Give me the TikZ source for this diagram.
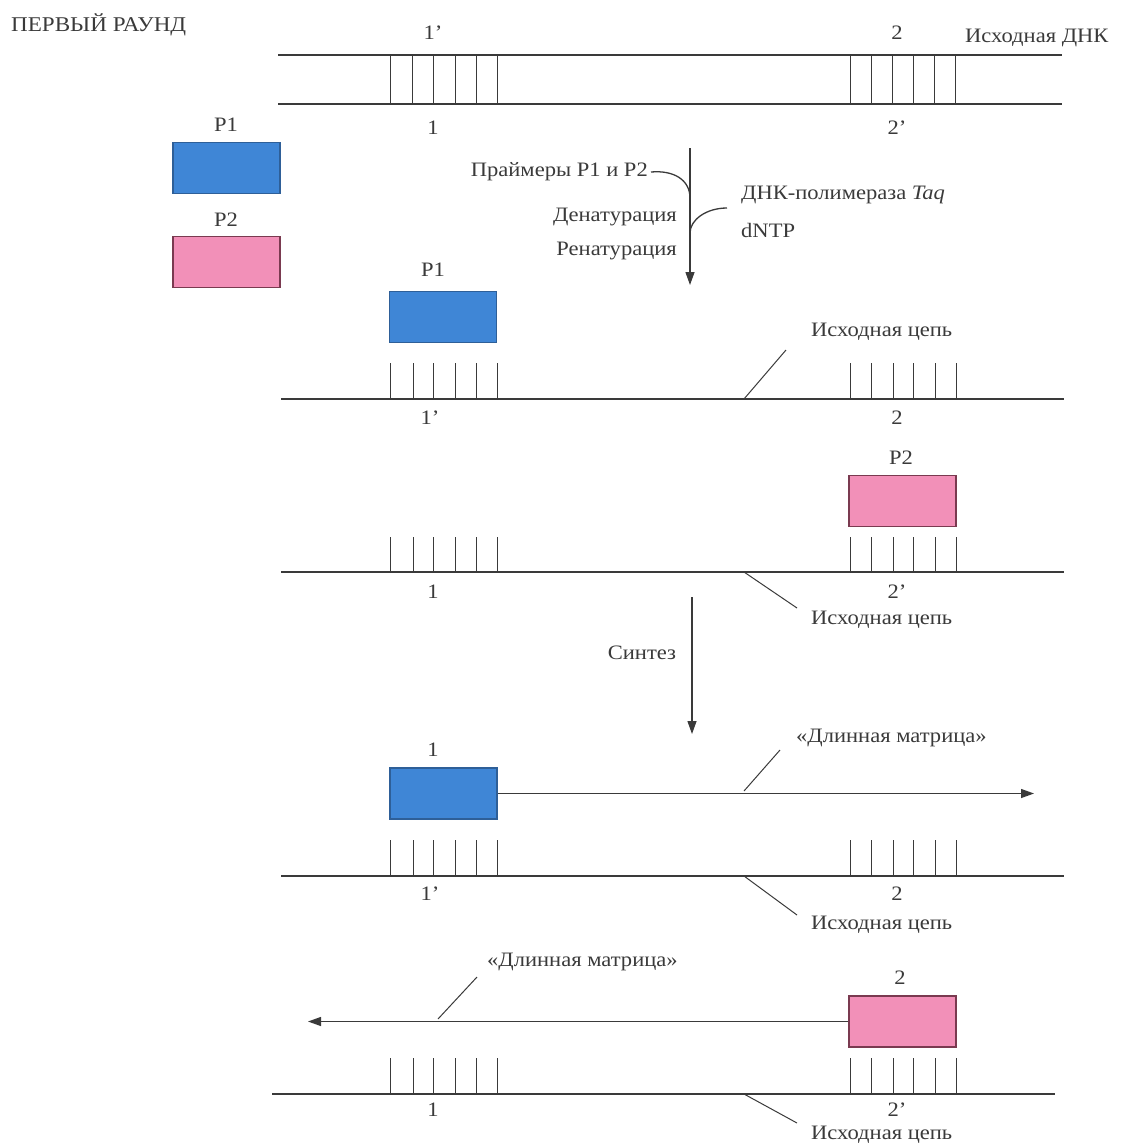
\documentclass[tikz,border=0pt]{standalone}
\usepackage{fontspec}
\setmainfont{Liberation Serif}[FakeStretch=1.1]
\usetikzlibrary{arrows.meta}
\definecolor{pblue}{HTML}{3F86D6}
\definecolor{pblueD}{HTML}{2E5F98}
\definecolor{ppink}{HTML}{F290B8}
\definecolor{ppinkD}{HTML}{7A3A50}
\definecolor{ink}{HTML}{3A3A3A}
\begin{document}
\begin{tikzpicture}[x=1pt,y=-1pt,
 lbl/.style={font=\fontsize{20.5}{22}\selectfont, text=ink, inner sep=0pt},
 strand/.style={draw=ink, line width=1.6pt},
 rung/.style={draw=ink, line width=0.9pt},
 lead/.style={draw=ink, line width=1pt},
 bluebox/.style={draw=pblueD, fill=pblue, line width=1.5pt, minimum width=107pt, minimum height=51pt, inner sep=0pt},
 pinkbox/.style={draw=ppinkD, fill=ppink, line width=1.5pt, minimum width=107pt, minimum height=51pt, inner sep=0pt},
 arr/.style={draw=ink, line width=1.3pt, -{Triangle[length=13pt,width=9pt]}},
 curv/.style={draw=ink, line width=1.3pt}
]
\useasboundingbox (0,0) rectangle (1131,1144);
% title
\node[lbl, anchor=west, font=\fontsize{21}{23}\selectfont] (title) at (11,25) {ПЕРВЫЙ РАУНД};
% top double strand
\coordinate (ts1) at (278,55); \coordinate (te1) at (1062,55);
\coordinate (ts2) at (278,104); \coordinate (te2) at (1062,104);
\draw[strand] (ts1) -- (te1);
\draw[strand] (ts2) -- (te2);
\foreach \x in {390,412,433,455,476,497,850,871,892,913,934,955}
  \draw[rung] (\x,55) -- (\x,104);
\node[lbl] (t1p) at (433,33) {1'};
\node[lbl] (t2) at (897,33) {2};
\node[lbl] (t1) at (433,128) {1};
\node[lbl] (t2p) at (897,128) {2'};
\node[lbl, anchor=west] (dna) at (965,38) {Исходная ДНК};
% free primers
\node[lbl] (lp1) at (226,125) {P1};
\node[bluebox] (bp1) at (226.5,168) {};
\node[lbl] (lp2) at (226,220) {P2};
\node[pinkbox] (bp2) at (226.5,262) {};
% step arrow 1
\coordinate (a1s) at (690,148); \coordinate (a1e) at (690,285);
\draw[arr] (a1s) -- (a1e);
\node[lbl, anchor=east] (prim) at (648,172) {Праймеры P1 и P2};
\node[lbl, anchor=east] (den) at (677,217) {Денатурация};
\node[lbl, anchor=east] (ren) at (677,251) {Ренатурация};
\node[lbl, anchor=west] (pol) at (741,195) {ДНК-полимераза \textit{Taq}};
\node[lbl, anchor=west] (dntp) at (741,230) {dNTP};
\coordinate (j1) at (690,198); \coordinate (j2) at (690,233);
\draw[curv] ([xshift=3pt]prim.east) .. controls (674,170) and (690,180) .. (j1);
\coordinate (c2) at (727,208);
\draw[curv] (c2) .. controls (706,208) and (690,220) .. (j2);
% panel 2
\node[lbl] (q1) at (433,270) {P1};
\node[bluebox] (b2) at (443,317) {};
\coordinate (s2a) at (281,399); \coordinate (s2b) at (1064,399);
\draw[strand] (s2a) -- (s2b);
\foreach \x in {390,413,433,455,476,497,850,871,893,913,935,956}
  \draw[rung] (\x,363) -- (\x,399);
\node[lbl] (q1p) at (430,418) {1'};
\node[lbl] (q2) at (897,418) {2};
\node[lbl, anchor=west] (src2) at (811,332) {Исходная цепь};
\coordinate (l2a) at (744,399); \coordinate (l2b) at (786,350);
\draw[lead] (l2a) -- (l2b);
% panel 3
\node[lbl] (r2) at (901,458) {P2};
\node[pinkbox] (b3) at (902.5,501) {};
\coordinate (s3a) at (281,572); \coordinate (s3b) at (1064,572);
\draw[strand] (s3a) -- (s3b);
\foreach \x in {390,413,433,455,476,497,850,871,893,913,935,956}
  \draw[rung] (\x,537) -- (\x,572);
\node[lbl] (r1) at (433,592) {1};
\node[lbl] (r2p) at (897,592) {2'};
\node[lbl, anchor=west] (src3) at (811,620) {Исходная цепь};
\coordinate (l3a) at (744,572); \coordinate (l3b) at (797,608);
\draw[lead] (l3a) -- (l3b);
% synthesis arrow
\coordinate (a2s) at (692,597); \coordinate (a2e) at (692,734);
\draw[arr] (a2s) -- (a2e);
\node[lbl] (syn) at (642,653) {Синтез};
% panel 4
\node[lbl] (u1) at (433,750) {1};
\node[bluebox] (b4) at (443.5,793.5) {};
\coordinate (t4) at (1034,793.5);
\draw[arr] (b4.east) -- (t4);
\node[lbl, anchor=west] (lm4) at (796,738) {«Длинная матрица»};
\coordinate (l4a) at (744,791); \coordinate (l4b) at (780,750);
\draw[lead] (l4a) -- (l4b);
\coordinate (s4a) at (281,876); \coordinate (s4b) at (1064,876);
\draw[strand] (s4a) -- (s4b);
\foreach \x in {390,413,433,455,476,497,850,871,893,913,935,956}
  \draw[rung] (\x,840) -- (\x,876);
\node[lbl] (u1p) at (430,894) {1'};
\node[lbl] (u2) at (897,894) {2};
\node[lbl, anchor=west] (src4) at (811,925) {Исходная цепь};
\coordinate (l4c) at (744,876); \coordinate (l4d) at (797,915);
\draw[lead] (l4c) -- (l4d);
% panel 5
\node[lbl, anchor=west] (lm5) at (487,962) {«Длинная матрица»};
\node[lbl] (v2) at (900,978) {2};
\node[pinkbox] (b5) at (902.5,1021.5) {};
\coordinate (t5) at (308,1021.5);
\draw[arr] (b5.west) -- (t5);
\coordinate (l5a) at (438,1019); \coordinate (l5b) at (477,977);
\draw[lead] (l5a) -- (l5b);
\coordinate (s5a) at (272,1094); \coordinate (s5b) at (1055,1094);
\draw[strand] (s5a) -- (s5b);
\foreach \x in {390,413,433,455,476,497,850,871,893,913,935,956}
  \draw[rung] (\x,1058) -- (\x,1094);
\node[lbl] (v1) at (433,1110) {1};
\node[lbl] (v2p) at (897,1110) {2'};
\node[lbl, anchor=west] (src5) at (811,1135) {Исходная цепь};
\coordinate (l5c) at (744,1094); \coordinate (l5d) at (797,1123);
\draw[lead] (l5c) -- (l5d);
\end{tikzpicture}
\end{document}
